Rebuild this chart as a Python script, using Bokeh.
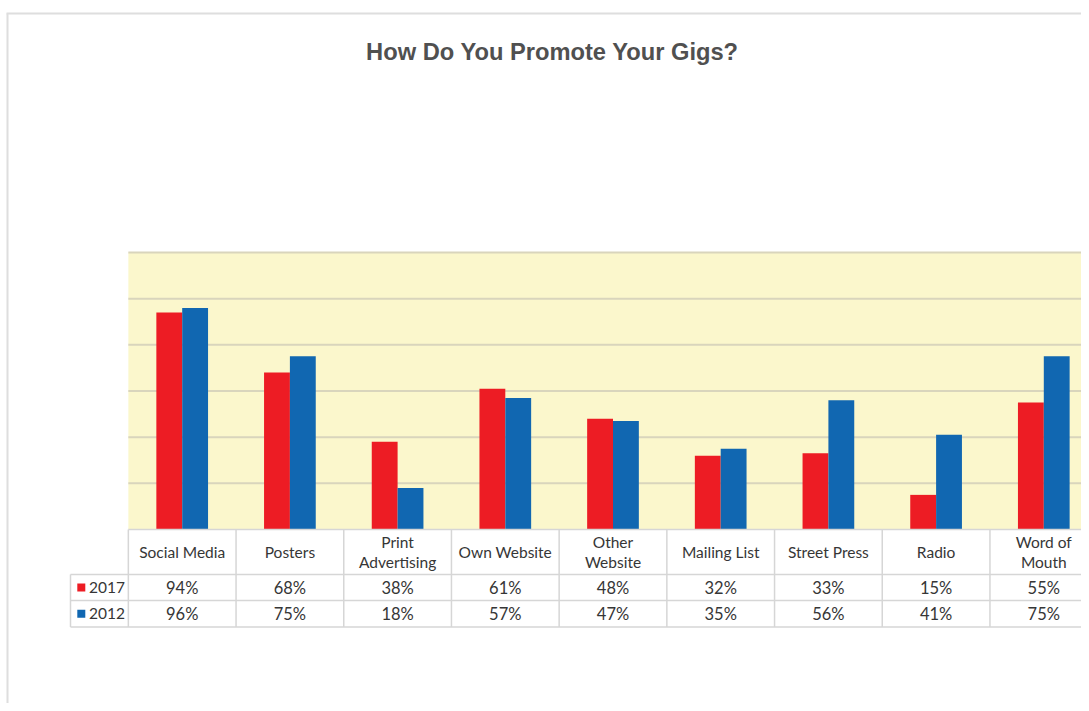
from bokeh.plotting import figure
from bokeh.models import Range1d
from bokeh.core.properties import value
from bokeh.embed import file_html
from bokeh.resources import INLINE

# ---- data ----
categories = ["Social Media", "Posters", "Print\nAdvertising", "Own Website",
              "Other\nWebsite", "Mailing List", "Street Press", "Radio", "Word of\nMouth"]
series_names = ["2017", "2012"]
values_2017 = [94, 68, 38, 61, 48, 32, 33, 15, 55]
values_2012 = [96, 75, 18, 57, 47, 35, 56, 41, 75]
grid_ticks = [20, 40, 60, 80, 100, 120]
title_text = "How Do You Promote Your Gigs?"

# ---- styling / layout ----
RED = "#ED1C24"
BLUE = "#1167B1"
YELLOW = "#FBF7CC"
GRID = "#D9D5BC"
TABLE_LINE = "#D6D6D6"
TEXT = "#363636"

W, H = 1081, 703
PX_X = 107.7          # px per category
PX_Y = 46.17 / 20     # px per percent
X0, Y0 = 127.85, 529  # data origin in figure pixels

x_start = -X0 / PX_X
x_end = x_start + W / PX_X
y_end = Y0 / PX_Y
y_start = y_end - H / PX_Y

def py(pix_y):
    return (Y0 - pix_y) / PX_Y

def px(pix_x):
    return (pix_x - X0) / PX_X

n = len(categories)
ymax = grid_ticks[-1]

p = figure(width=W, height=H, x_range=Range1d(x_start, x_end), y_range=Range1d(y_start, y_end),
           x_axis_type=None, y_axis_type=None, toolbar_location=None, output_backend="svg",
           min_border=0, min_border_left=0, min_border_right=0, min_border_top=0, min_border_bottom=0)
p.outline_line_color = None
p.background_fill_color = "white"
p.border_fill_color = "white"

# outer frame lines (top and left)
top_border = py(13)
p.segment(x0=[px(7), px(6)], y0=[y_start, top_border],
          x1=[px(7), x_end], y1=[top_border, top_border],
          line_color="#DEDEDE", line_width=2)

# plot area background
p.quad(left=[0], right=[n], bottom=[0], top=[ymax], fill_color=YELLOW, line_color=None)

# gridlines
p.segment(x0=[0] * len(grid_ticks), x1=[n] * len(grid_ticks), y0=grid_ticks, y1=grid_ticks,
          line_color=GRID, line_width=2)

# bars
bw = 0.24
xs = [i + 0.5 for i in range(n)]
p.vbar(x=[x - bw / 2 for x in xs], width=bw, bottom=0, top=values_2017, fill_color=RED, line_color=None)
p.vbar(x=[x + bw / 2 for x in xs], width=bw, bottom=0, top=values_2012, fill_color=BLUE, line_color=None)

# ---- data table ----
hdr_bottom = py(574)
row1_bottom = py(600)
row2_bottom = py(626.5)
leg_left = px(70)

p.segment(x0=[0, leg_left, leg_left, leg_left], x1=[n, n, n, n],
          y0=[0, hdr_bottom, row1_bottom, row2_bottom], y1=[0, hdr_bottom, row1_bottom, row2_bottom],
          line_color=TABLE_LINE, line_width=1.5)
vx = list(range(n + 1))
p.segment(x0=vx, x1=vx, y0=[0] * len(vx), y1=[row2_bottom] * len(vx),
          line_color=TABLE_LINE, line_width=1.5)
p.segment(x0=[leg_left], x1=[leg_left], y0=[hdr_bottom], y1=[row2_bottom],
          line_color=TABLE_LINE, line_width=1.5)

# header labels
p.text(x=xs, y=[(0 + hdr_bottom) / 2] * n, text=categories, text_align="center",
       text_baseline="middle", text_font=value("Lato"), text_font_size="15.5px",
       text_color=TEXT, text_line_height=1.13)

row_y = [(hdr_bottom + row1_bottom) / 2, (row1_bottom + row2_bottom) / 2]
for vals, yy in zip([values_2017, values_2012], row_y):
    p.text(x=xs, y=[yy] * n, text=[f"{v}%" for v in vals], text_align="center",
           text_baseline="middle", text_font=value("Lato"), text_font_size="16.5px",
           text_color=TEXT)

# legend keys in table
p.rect(x=[px(80.8)] * 2, y=row_y, width=8, height=8, width_units="screen", height_units="screen",
       fill_color=[RED, BLUE], line_color=None)
p.text(x=[px(88.5)] * 2, y=row_y, text=series_names, text_align="left", text_baseline="middle",
       text_font=value("Lato"), text_font_size="15.5px", text_color=TEXT)

# title
p.text(x=[px(552)], y=[py(51)], text=[title_text], text_align="center", text_baseline="alphabetic",
       text_font=value("Liberation Sans"), text_font_style="bold", text_font_size="23.7px",
       text_color="#505050")

open("out.html", "w").write(file_html(p, INLINE))
